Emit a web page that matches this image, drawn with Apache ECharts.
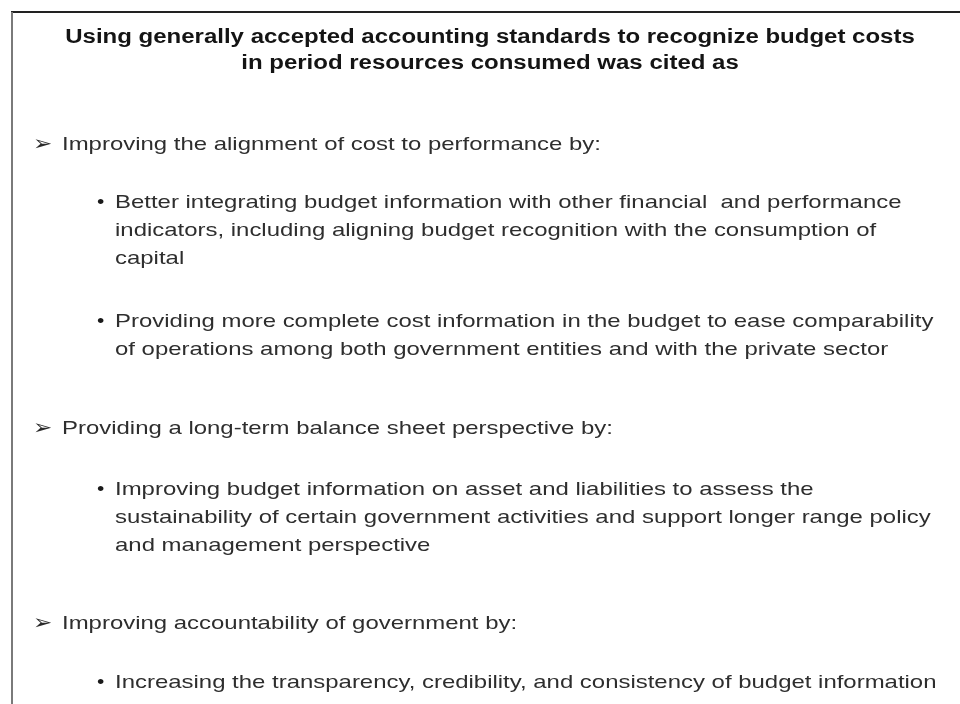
<!DOCTYPE html>
<html>
<head>
<meta charset="utf-8">
<script src="https://cdn.jsdelivr.net/npm/echarts@6/dist/echarts.min.js"></script>
<style>
html,body{margin:0;padding:0;background:#fff;}
#chart{width:960px;height:704px;}
</style>
</head>
<body>
<div id="chart"></div>
<script>
// ---- content ----
const titleLines = [
  "Using generally accepted accounting standards to recognize budget costs",
  "in period resources consumed was cited as"
];
const headings = [
  "Improving the alignment of cost to performance by:",
  "Providing a long-term balance sheet perspective by:",
  "Improving accountability of government by:"
];
const bullet1Lines = [
  "Better integrating budget information with other financial  and performance",
  "indicators, including aligning budget recognition with the consumption of",
  "capital"
];
const bullet2Lines = [
  "Providing more complete cost information in the budget to ease comparability",
  "of operations among both government entities and with the private sector"
];
const bullet3Lines = [
  "Improving budget information on asset and liabilities to assess the",
  "sustainability of certain government activities and support longer range policy",
  "and management perspective"
];
const bullet4Lines = [
  "Increasing the transparency, credibility, and consistency of budget information"
];

// ---- layout ----
const FONT = '"Liberation Sans", Arial, Helvetica, sans-serif';
const titleY = [37, 63];
const headingY = [145, 429, 624];
const bulletBlocks = [
  {lines: bullet1Lines, y: 203},
  {lines: bullet2Lines, y: 322},
  {lines: bullet3Lines, y: 490},
  {lines: bullet4Lines, y: 683}
];
const LINE_PITCH = 27.7;
const BODY_SIZE = 19;
const BODY_SCALE = 1.26;
const TITLE_SIZE = 20;
const TITLE_SCALE = 1.2;

const graphics = [];
// frame
graphics.push({type:'line', shape:{x1:11, y1:12, x2:960, y2:12}, style:{stroke:'#222', lineWidth:2}});
graphics.push({type:'line', shape:{x1:12, y1:12, x2:12, y2:704}, style:{stroke:'#7a7a7a', lineWidth:2}});

titleLines.forEach((t, i) => {
  graphics.push({type:'text', x:490, y:titleY[i], scaleX:TITLE_SCALE,
    style:{text:t, font:`bold ${TITLE_SIZE}px ${FONT}`, fill:'#141414', align:'center', verticalAlign:'middle'}});
});
headings.forEach((t, i) => {
  graphics.push({type:'text', x:33, y:headingY[i], scaleX:1.15,
    style:{text:'\u27A2', font:`20px "DejaVu Sans", sans-serif`, fill:'#2a2a2a', align:'left', verticalAlign:'middle'}});
  graphics.push({type:'text', x:62, y:headingY[i], scaleX:BODY_SCALE,
    style:{text:t, font:`${BODY_SIZE}px ${FONT}`, fill:'#2e2e2e', align:'left', verticalAlign:'middle'}});
});
bulletBlocks.forEach(b => {
  graphics.push({type:'text', x:97, y:b.y, scaleX:1.1,
    style:{text:'\u2022', font:`${BODY_SIZE}px ${FONT}`, fill:'#1a1a1a', align:'left', verticalAlign:'middle'}});
  b.lines.forEach((t, j) => {
    graphics.push({type:'text', x:115, y:b.y + j*LINE_PITCH, scaleX:BODY_SCALE,
      style:{text:t, font:`${BODY_SIZE}px ${FONT}`, fill:'#2e2e2e', align:'left', verticalAlign:'middle'}});
  });
});

const chart = echarts.init(document.getElementById('chart'), null, {renderer:'canvas'});
chart.setOption({backgroundColor:'#ffffff', animation:false, graphic:{elements:graphics}});
</script>
</body>
</html>
